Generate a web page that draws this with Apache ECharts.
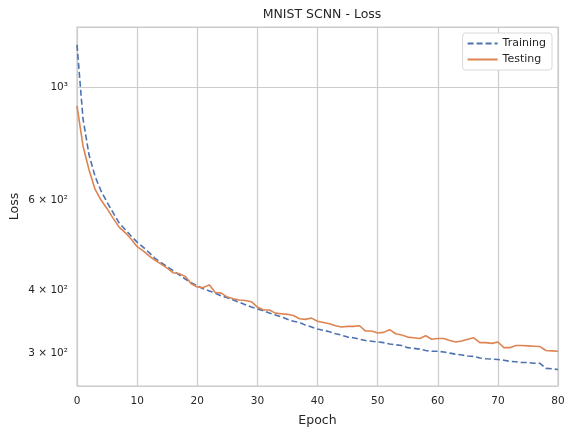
<!DOCTYPE html>
<html><head><meta charset="utf-8">
<script src="https://cdn.jsdelivr.net/npm/echarts@6/dist/echarts.min.js"></script>
<style>html,body{margin:0;padding:0;background:#fff}#c{width:564px;height:429px}</style>
</head><body><div id="c"></div>
<script>
const title = "MNIST SCNN - Loss";
const xName = "Epoch";
const yName = "Loss";
const seriesNames = ["Training", "Testing"];
const xTicks = [0, 10, 20, 30, 40, 50, 60, 70, 80];
const yTickValues = [300, 400, 600, 1000];
const yTickLabels = ["3 × 10²", "4 × 10²", "6 × 10²", "10³"];
const training = [1209,866,736,668,625,594,567,541,525,510,
  496,485,473,461,452,444,436,428,420,413,
  407,402,398,394,389,386,382,378,374,370,
  367,364,360,357,354,350,347,345,341,338,
  335,333,331,328,326,323,322,320,318,317,
  316,315,313,312,311,308,307,306,304,303,
  303,302,300.5,299,298,296.5,296,294,293,292.5,
  292,291,289.5,289,288,288,287,287,280.5,280,279];
const testing = [918,766,688,630,600,577,553,531,518,503,
  486,477,466,457,449,441,432,430,425,411,
  405,404,409,395,394,387,384,382,381,379,
  370,365,365,360,359,358,356,351,350,352,
  347,345,343,340,338,339,339,340,332,332,
  329,330,334,328,326,323,322,321,325,320,
  321,321,318,316,317.5,320,322,315,315,314,
  316,308,308,311,311,310.5,310,309.5,304,303.5,303];

const txt = '#262626';
const font = 'DejaVu Sans';
const toPairs = arr => arr.map((v, i) => [i, v]);
const chart = echarts.init(document.getElementById('c'), null, {renderer: 'canvas'});
chart.setOption({
  animation: false,
  backgroundColor: '#fff',
  textStyle: {fontFamily: font, color: txt},
  title: {text: title, left: 317, top: 3, textAlign: 'center',
    textStyle: {fontFamily: font, fontSize: 12.5, fontWeight: 'normal', color: txt}},
  grid: {left: 77, right: 6, top: 27, bottom: 43, show: true, borderColor: '#cccccc', borderWidth: 1.2,
    outerBoundsMode: 'none', containLabel: false},
  legend: {orient: 'vertical', right: 12, top: 33, padding: [5, 6, 5, 4], itemGap: 5,
    itemWidth: 30, itemHeight: 12, backgroundColor: '#fff', borderColor: '#d9d9d9', borderWidth: 1, borderRadius: 3,
    itemStyle: {opacity: 0},
    textStyle: {fontFamily: font, fontSize: 11, color: txt}, data: seriesNames},
  xAxis: {type: 'value', min: xTicks[0], max: xTicks[xTicks.length - 1], interval: 10,
    name: xName, nameLocation: 'middle', nameGap: 28, nameMoveOverlap: false,
    nameTextStyle: {fontFamily: font, fontSize: 12.5, color: txt},
    axisLine: {show: false}, axisTick: {show: false},
    axisLabel: {margin: 10, fontFamily: font, fontSize: 10.5, color: txt},
    splitLine: {show: true, lineStyle: {color: '#cccccc', width: 1.2}}},
  yAxis: {type: 'log', logBase: 10, min: 259, max: 1311,
    name: yName, nameLocation: 'middle', nameGap: 56, nameMoveOverlap: false,
    nameTextStyle: {fontFamily: font, fontSize: 12.5, color: txt},
    axisLine: {show: false}, axisTick: {show: false},
    axisLabel: {margin: 9, fontFamily: font, fontSize: 10.5, color: txt,
      customValues: yTickValues,
      formatter: v => { const i = yTickValues.findIndex(t => Math.abs(t - v) < 1e-6); return i >= 0 ? yTickLabels[i] : ''; }},
    splitLine: {show: true, lineStyle: {color: '#cccccc', width: 1.2}}},
  series: [
    {name: seriesNames[0], type: 'line', data: toPairs(training), showSymbol: false, symbol: 'none',
      lineStyle: {color: '#4c72b0', width: 1.6, type: [6, 3]}, itemStyle: {color: '#4c72b0'}},
    {name: seriesNames[1], type: 'line', data: toPairs(testing), showSymbol: false, symbol: 'none',
      lineStyle: {color: '#dd8452', width: 1.6, type: 'solid'}, itemStyle: {color: '#dd8452'}}
  ]
});
</script></body></html>
